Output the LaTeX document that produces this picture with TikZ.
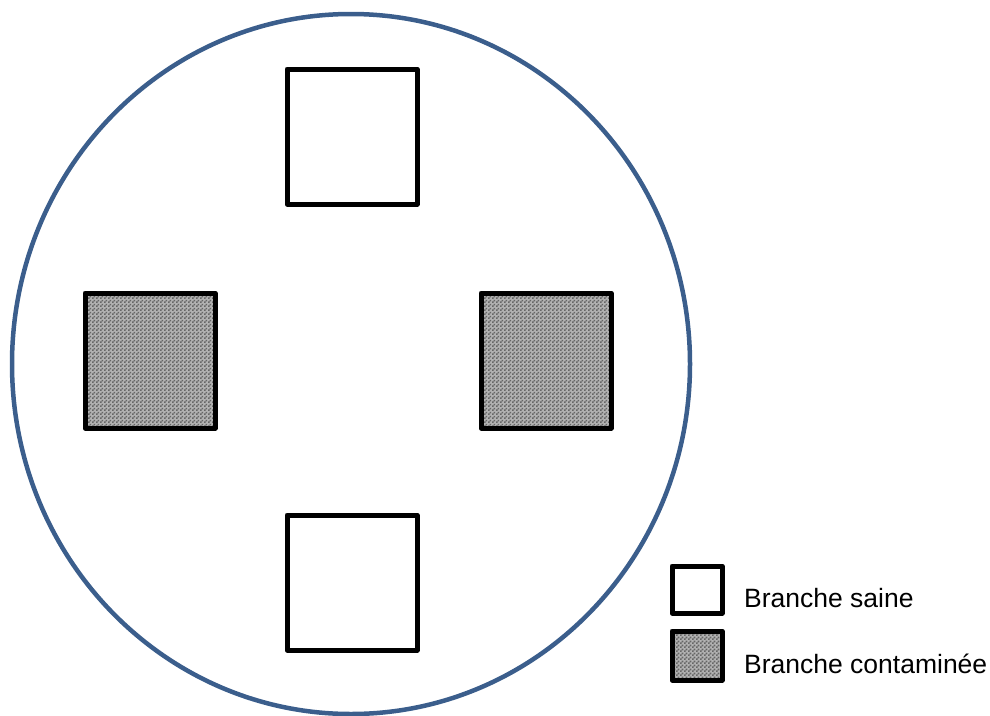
\documentclass[tikz,border=0pt]{standalone}
\usepackage{fontspec}
\setmainfont{Liberation Sans}
\usetikzlibrary{patterns}
\definecolor{ringblue}{RGB}{59,94,140}
\pgfdeclarepatternformonly{finecheck}{\pgfpointorigin}{\pgfqpoint{4pt}{4pt}}{\pgfqpoint{4pt}{4pt}}{%
  \pgfpathrectangle{\pgfpointorigin}{\pgfqpoint{2pt}{2pt}}%
  \pgfpathrectangle{\pgfqpoint{2pt}{2pt}}{\pgfqpoint{2pt}{2pt}}%
  \pgfusepath{fill}}
\begin{document}
\begin{tikzpicture}[x=1pt,y=-1pt,
  box/.style={draw=black,line width=5pt,line join=round,fill=white},
  sick/.style={draw=black,line width=5pt,line join=round,fill=gray!55,
    preaction={fill=gray!55},preaction={pattern=finecheck,pattern color=black!60}},
  lbl/.style={anchor=west,font=\fontsize{26.5}{30}\selectfont,inner sep=0pt}]
\useasboundingbox (0,0) rectangle (990,715);
\draw[ringblue,line width=4.5pt] (351,364) ellipse [x radius=339, y radius=350];
\draw[box] (287,69) rectangle (417,204);
\fill[gray!60] (85,293) rectangle (215,428);
\fill[pattern=finecheck,pattern color=black!60] (85,293) rectangle (215,428);
\draw[box,fill=none] (85,293) rectangle (215,428);
\fill[gray!60] (481,293) rectangle (611,428);
\fill[pattern=finecheck,pattern color=black!60] (481,293) rectangle (611,428);
\draw[box,fill=none] (481,293) rectangle (611,428);
\draw[box] (287,515) rectangle (417,650);
\draw[box] (672,566) rectangle (722,613);
\fill[gray!60] (672,631) rectangle (722,680);
\fill[pattern=finecheck,pattern color=black!60] (672,631) rectangle (722,680);
\draw[box,fill=none] (672,631) rectangle (722,680);
\node[lbl] (t1) at (744,598) {Branche saine};
\node[lbl] (t2) at (744,664) {Branche contaminée};
\end{tikzpicture}
\end{document}
